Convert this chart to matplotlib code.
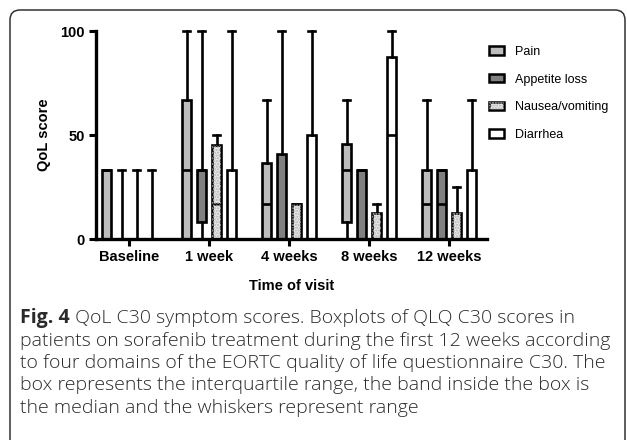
import matplotlib
matplotlib.use("Agg")
import matplotlib.pyplot as plt
from matplotlib.patches import FancyBboxPatch, Patch, PathPatch

plt.rcParams['font.family'] = ['Liberation Sans', 'DejaVu Sans']

# --- données --------------------------------------------------------------
visits = ["Baseline", "1 week", "4 weeks", "8 weeks", "12 weeks"]
domains = ["Pain", "Appetite loss", "Nausea/vomiting", "Diarrhea"]

# (min, Q1, médiane, Q3, max) par visite
pain = [(0, 0, 33.3, 33.3, 33.3), (0, 0, 33.3, 66.7, 100), (0, 0, 16.7, 36.5, 66.7),
        (0, 8.3, 33.3, 45.8, 66.7), (0, 0, 16.7, 33.3, 66.7)]
appetite = [(0, 0, 0, 0, 33.3), (0, 8.3, 33.3, 33.3, 100), (0, 0, 0, 41, 100),
            (0, 0, 0, 33.3, 33.3), (0, 0, 16.7, 33.3, 33.3)]
nausea = [(0, 0, 0, 0, 33.3), (0, 0, 16.7, 45, 50), (0, 0, 0, 16.7, 16.7),
          (0, 0, 0, 12.5, 16.7), (0, 0, 0, 12.5, 25)]
diarrhea = [(0, 0, 0, 0, 33.3), (0, 0, 0, 33.3, 100), (0, 0, 0, 50, 100),
            (0, 0, 50, 87.5, 100), (0, 0, 0, 33.3, 66.7)]

series = [pain, appetite, nausea, diarrhea]
face_colors = ["#bdbdbd", "#808080", "#e6e6e6", "#ffffff"]
hatches = [None, None, "......", None]
hatch_color = "#b4b4b4"

caption_bold = "Fig. 4"
caption_lines = [
    " QoL C30 symptom scores. Boxplots of QLQ C30 scores in",
    "patients on sorafenib treatment during the first 12 weeks according",
    "to four domains of the EORTC quality of life questionnaire C30. The",
    "box represents the interquartile range, the band inside the box is",
    "the median and the whiskers represent range",
]

W, H = 627, 440
fig = plt.figure(figsize=(W / 100, H / 100), dpi=100)

# cadre arrondi + légende texte, en coordonnées pixels
frame = fig.add_axes([0, 0, 1, 1], zorder=-1)
frame.set_xlim(0, W)
frame.set_ylim(H, 0)
frame.axis("off")
frame.add_patch(FancyBboxPatch((10, 10), 615, 480, boxstyle="round,pad=0,rounding_size=10",
                               facecolor="white", edgecolor="#333333", linewidth=1.1))

ax = fig.add_axes([96 / W, 1 - 239 / H, (487 - 96) / W, (239 - 31) / H])
ax.patch.set_alpha(0)

lw = 1.9
step = 0.1875
for i, (data, fc, hatch) in enumerate(zip(series, face_colors, hatches)):
    stats = [dict(whislo=d[0], q1=d[1], med=d[2], q3=d[3], whishi=d[4]) for d in data]
    pos = [k + (i - 1.5) * step for k in range(len(visits))]
    res = ax.bxp(stats, positions=pos, widths=0.12, capwidths=0.085, showfliers=False,
                 patch_artist=True,
                 boxprops=dict(facecolor=fc, edgecolor="black", linewidth=lw),
                 whiskerprops=dict(color="black", linewidth=lw),
                 capprops=dict(color="black", linewidth=lw),
                 medianprops=dict(color="black", linewidth=lw))
    for key in ("whiskers", "caps", "medians", "boxes"):
        for art in res[key]:
            art.set_clip_on(False)
    if hatch:
        # pointillé gris clair par-dessus la boîte
        for b in res["boxes"]:
            ax.add_patch(PathPatch(b.get_path(), facecolor="none", edgecolor=hatch_color,
                                   linewidth=0, hatch=hatch, zorder=b.get_zorder() + 0.1))

ax.set_xlim(-0.4125, 4.475)
ax.set_ylim(0, 100)
ax.set_xticks(range(len(visits)))
ax.set_xticklabels(visits, fontsize=10.5, fontweight="bold")
ax.set_yticks([0, 50, 100])
ax.set_yticklabels(["0", "50", "100"], fontsize=10.5, fontweight="bold")
ax.tick_params(direction="out", length=5, width=2.2, pad=3)
for s in ("top", "right"):
    ax.spines[s].set_visible(False)
for s in ("left", "bottom"):
    ax.spines[s].set_linewidth(2.4)
    ax.spines[s].set_capstyle("projecting")
ax.set_xlabel("Time of visit", fontsize=10.5, fontweight="bold", labelpad=11)
ax.set_ylabel("QoL score", fontsize=10.5, fontweight="bold", labelpad=7)

handles = []
for fc, hatch in zip(face_colors, hatches):
    base = Patch(facecolor=fc, edgecolor="black", linewidth=1.8)
    if hatch:
        handles.append((base, Patch(facecolor="none", edgecolor=hatch_color, linewidth=0, hatch=hatch)))
    else:
        handles.append(base)
fig.legend(handles, domains, loc="upper left", bbox_to_anchor=(489 / W, 1 - 46 / H),
           frameon=False, fontsize=9, handlelength=1.2, handleheight=0.65,
           handletextpad=0.9, labelspacing=1.25, borderpad=0, borderaxespad=0)

# légende de la figure
cap_font = dict(family=["Open Sans", "DejaVu Sans"], fontsize=14, color="#2a2a2a", va="center")
t0 = frame.text(20, 318, caption_bold, fontweight="bold", **cap_font)
fig.canvas.draw()
bb = t0.get_window_extent()
frame.text(bb.x1, 318, caption_lines[0], fontweight="light", **cap_font)
for j, line in enumerate(caption_lines[1:]):
    frame.text(20, 341 + j * 22.2, line, fontweight="light", **cap_font)

fig.savefig("out.png", dpi=100)
